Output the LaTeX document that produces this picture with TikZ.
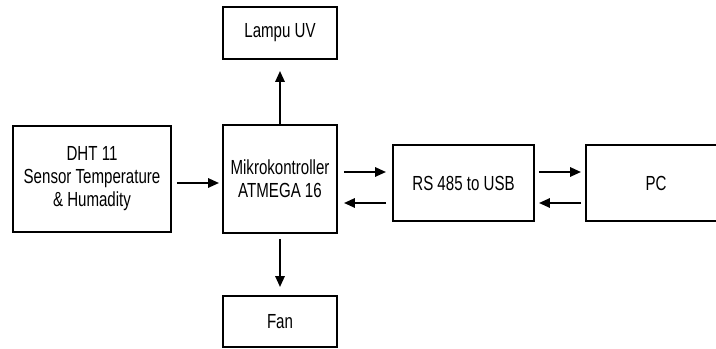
\documentclass[tikz,border=0pt]{standalone}
\usepackage{fontspec}
\setmainfont{Liberation Sans}
\newfontfamily\narrowfont[FakeStretch=0.74]{Liberation Sans}
\usepackage{tikz}
\usetikzlibrary{arrows.meta,positioning,calc}

\begin{document}
\begin{tikzpicture}[>={Triangle[length=0.27cm,width=0.23cm]},scale=1.0,
  blok/.style={draw,line width=1.4pt,align=center,inner sep=2pt,
    font=\narrowfont\fontsize{14.5}{16.3}\selectfont},
  panah/.style={->,line width=1.4pt}]
  \useasboundingbox (0,0) rectangle (17.9,8.725);
  % blocks
  \node[blok,minimum width=3.95cm,minimum height=2.65cm] (dht) at (2.3,4.25) {DHT 11\\Sensor Temperature\\\& Humadity};
  \node[blok,minimum width=2.85cm,minimum height=2.7cm] (mikro) at (7.0,4.25) {Mikrokontroller\\ATMEGA 16};
  \node[blok,minimum width=2.85cm,minimum height=1.3cm] (lampu) at (7.0,7.9) {Lampu UV};
  \node[blok,minimum width=2.85cm,minimum height=1.275cm] (fan) at (7.0,0.6875) {Fan};
  \node[blok,minimum width=3.525cm,minimum height=1.9cm] (rs) at (11.5875,4.15) {RS 485 to USB};
  \node[blok,minimum width=3.5cm,minimum height=1.9cm] (pc) at (16.4,4.15) {PC};
  % sensor to controller
  \draw[panah,shorten <=0.125cm,shorten >=0.075cm] (dht.east |- rs.west) -- (mikro.west |- rs.west);
  % outputs
  \draw[panah,shorten >=0.275cm] (mikro.north) -- (lampu.south);
  \draw[panah,shorten <=0.125cm,shorten >=0.2cm] (mikro.south) -- (fan.north);
  % serial link
  \draw[panah,shorten <=0.15cm,shorten >=0.15cm] ([yshift=0.275cm]mikro.east |- rs.west) -- ([yshift=0.275cm]rs.west);
  \draw[panah,shorten <=0.15cm,shorten >=0.15cm] ([yshift=-0.5cm]rs.west) -- ([yshift=-0.5cm]mikro.east |- rs.west);
  \draw[panah,shorten <=0.1cm,shorten >=0.1cm] ([yshift=0.275cm]rs.east) -- ([yshift=0.275cm]pc.west);
  \draw[panah,shorten <=0.1cm,shorten >=0.1cm] ([yshift=-0.5cm]pc.west) -- ([yshift=-0.5cm]rs.east);
\end{tikzpicture}
\end{document}
